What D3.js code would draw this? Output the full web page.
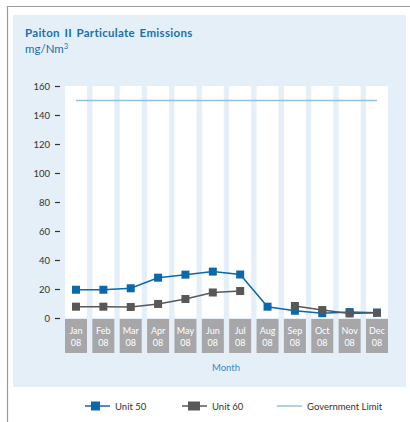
<!DOCTYPE html>
<html><head><meta charset="utf-8">
<script src="https://cdn.jsdelivr.net/npm/d3@7"></script>
<style>body{margin:0;background:#fff}svg{display:block}</style>
</head><body>
<script>
const months = ["Jan","Feb","Mar","Apr","May","Jun","Jul","Aug","Sep","Oct","Nov","Dec"];
const yearLabel = "08";
const unit50 = [19.5, 19.5, 20.5, 27.8, 29.9, 32, 30, 7.8, 5.0, 3.3, 4.1, 3.7];
const unit60 = [7.8, 7.8, 7.6, 9.7, 13.1, 17.6, 18.6, null, 8.3, 5.5, 3.1, 3.6];
const govLimit = 150;
const yTicks = [0, 20, 40, 60, 80, 100, 120, 140, 160];

const W = 410, H = 422;
const FONT = "Lato, 'Open Sans', sans-serif";
const svg = d3.select("body").append("svg").attr("width", W).attr("height", H)
  .style("font-family", FONT);

// frame
svg.append("rect").attr("x", 13).attr("y", 15).attr("width", 393).attr("height", 372).attr("fill", "#e4eff7");
svg.append("path").attr("d", "M7.5,422V6.5H410").attr("fill", "none").attr("stroke", "#9a9a9a").attr("stroke-width", 1.2);

// title
svg.append("text").attr("x", 25).attr("y", 37).attr("fill", "#1b6fae")
  .attr("font-size", 11.5).attr("font-weight", "bold").attr("letter-spacing", 0.3).attr("word-spacing", 1.5)
  .text("Paiton II Particulate Emissions");
const sub = svg.append("text").attr("x", 25).attr("y", 53).attr("fill", "#1b6fae").attr("font-size", 11.5);
sub.append("tspan").text("mg/Nm");
sub.append("tspan").attr("font-size", 7.5).attr("dy", -4).text("3");

const x = d3.scaleBand().domain(months).range([65, 388]).paddingInner(0.196).paddingOuter(0);
const y = d3.scaleLinear().domain([0, 160]).range([318, 86]);

// columns
svg.append("g").selectAll("rect").data(months).join("rect")
  .attr("x", d => x(d)).attr("y", y(160)).attr("width", x.bandwidth()).attr("height", y(0) - y(160))
  .attr("fill", "#ffffff");
// label boxes
const lb = svg.append("g").selectAll("g").data(months).join("g")
  .attr("transform", d => `translate(${x(d)},319)`);
lb.append("rect").attr("width", x.bandwidth()).attr("height", 34).attr("fill", "#a7a7a9");
lb.append("text").attr("x", x.bandwidth() / 2).attr("y", 15).attr("text-anchor", "middle")
  .attr("fill", "#fff").attr("font-size", 9).text(d => d);
lb.append("text").attr("x", x.bandwidth() / 2).attr("y", 27).attr("text-anchor", "middle")
  .attr("fill", "#fff").attr("font-size", 9).text(yearLabel);

// y axis
const yAxis = svg.append("g").attr("transform", "translate(60,0)")
  .call(d3.axisLeft(y).tickValues(yTicks).tickSize(5).tickPadding(5));
yAxis.select(".domain").remove();
yAxis.selectAll(".tick line").attr("stroke", "#333").attr("stroke-width", 1.2);
yAxis.selectAll(".tick text").attr("fill", "#333").attr("font-size", 9.5).attr("font-family", FONT);

// gov limit
const cx = d => x(d) + x.bandwidth() / 2;
svg.append("line").attr("x1", cx(months[0])).attr("x2", cx(months[11]))
  .attr("y1", y(govLimit)).attr("y2", y(govLimit)).attr("stroke", "#8fc2e6").attr("stroke-width", 1.5);

function series(vals, color) {
  const pts = vals.map((v, i) => ({ m: months[i], v }));
  const line = d3.line().defined(d => d.v != null).x(d => cx(d.m)).y(d => y(d.v));
  svg.append("path").datum(pts).attr("d", line).attr("fill", "none").attr("stroke", color).attr("stroke-width", 1.5);
  svg.append("g").selectAll("rect").data(pts.filter(d => d.v != null)).join("rect")
    .attr("x", d => cx(d.m) - 4).attr("y", d => y(d.v) - 4).attr("width", 8).attr("height", 8).attr("fill", color);
}
series(unit50, "#0b68ab");
series(unit60, "#58585a");

// x title
svg.append("text").attr("x", 226).attr("y", 371).attr("text-anchor", "middle").attr("fill", "#3a87c8")
  .attr("font-size", 9.5).text("Month");

// legend
const ly = 406;
function legItem(x0, color, label, sq) {
  svg.append("line").attr("x1", x0).attr("x2", x0 + 25).attr("y1", ly).attr("y2", ly).attr("stroke", color).attr("stroke-width", 1.5);
  if (sq) svg.append("rect").attr("x", x0 + 6).attr("y", ly - 4.5).attr("width", sq).attr("height", 9).attr("fill", color);
  svg.append("text").attr("x", x0 + 30).attr("y", ly + 3.5).attr("fill", "#333").attr("font-size", 9.5).text(label);
}
legItem(85, "#0b68ab", "Unit 50", 9);
legItem(182, "#58585a", "Unit 60", 12);
legItem(277, "#8fc2e6", "Government Limit", 0);
</script>
</body></html>
